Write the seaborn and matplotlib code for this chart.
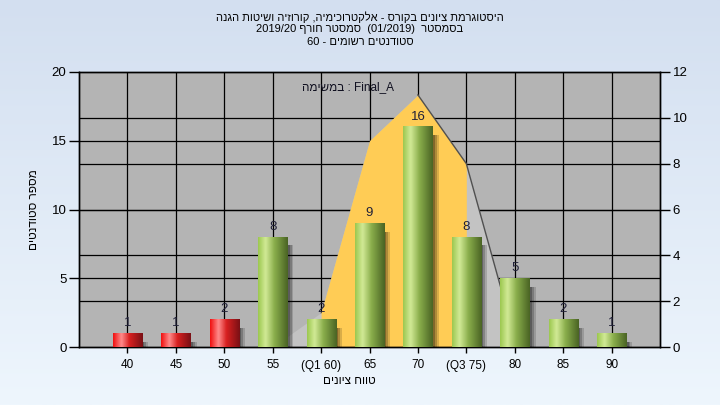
import re
import numpy as np
import matplotlib
matplotlib.use("Agg")
import matplotlib.pyplot as plt
import seaborn as sns
from matplotlib.colors import LinearSegmentedColormap

# data
grades = ["40", "45", "50", "55", "(Q1 60)", "65", "70", "(Q3 75)", "80", "85", "90"]
counts = [1, 1, 2, 8, 2, 9, 16, 8, 5, 2, 1]
failing = ["40", "45", "50"]
# distribution curve on the right axis
curve_grades = ["55", "(Q1 60)", "65", "70", "(Q3 75)", "80"]
curve_vals = [0, 1.5, 9, 11, 8, 0.4]
iqr_grades = ["(Q1 60)", "65", "70", "(Q3 75)"]

title_lines = ["היסטוגרמת ציונים בקורס - אלקטרוכימיה, קורוזיה ושיטות הגנה",
               "בסמסטר  (01/2019)  סמסטר חורף 2019/20",
               "סטודנטים רשומים - 60"]
task_label = "Final_A : במשימה"
x_title = "טווח ציונים"
y_title = "מספר סטודנטים"


def vis(s):
    # matplotlib has no bidi: lay out an RTL line by hand
    tokens = re.findall(r"[A-Za-z0-9_/.]+|.", s)
    mirror = {"(": ")", ")": "("}
    return "".join(mirror.get(t, t) for t in reversed(tokens))


plt.rcParams["font.family"] = ["Liberation Sans", "DejaVu Sans"]

fig = plt.figure(figsize=(7.2, 4.05), dpi=100)

# light blue background gradient
bg = fig.add_axes([0, 0, 1, 1], zorder=-10)
top_c = np.array([211, 223, 240]) / 255
bot_c = np.array([238, 246, 253]) / 255
t = np.linspace(0, 1, 200)[:, None]
bg.imshow((top_c * (1 - t) + bot_c * t)[:, None, :], aspect="auto", extent=[0, 1, 0, 1])
bg.axis("off")

rect = [79 / 720, 1 - 347 / 405, (660 - 79) / 720, (347 - 72) / 405]
ax = fig.add_axes(rect)
ax2 = ax.twinx()
ax.set_zorder(2)
ax2.set_zorder(1)
ax.patch.set_visible(False)
ax2.patch.set_visible(True)
ax2.patch.set_facecolor("#B4B4B4")

pos = {g: i for i, g in enumerate(grades)}

# ---- back axes: grid + curve area
ax2.set_ylim(0, 12)
ax2.set_yticks(range(0, 13, 2))
for v in range(2, 12, 2):
    ax2.axhline(v, color="black", lw=0.9, zorder=0)
for v in [5, 10, 15]:
    ax2.axhline(v * 12 / 20, color="black", lw=0.9, zorder=0)
for i in range(len(grades)):
    ax2.axvline(i, color="black", lw=0.9, zorder=0)

cx = np.array([pos[g] for g in curve_grades], dtype=float)
cy = np.array(curve_vals, dtype=float)
ax2.fill_between(cx, cy, 0, color="#C3C3C3", lw=0, zorder=1)
inner = (cx >= pos[iqr_grades[0]]) & (cx <= pos[iqr_grades[-1]])
ax2.fill_between(cx[inner], cy[inner], 0, color="#FFCC55", lw=0, zorder=2)
ax2.plot(cx[3:], cy[3:], color="#505050", lw=1.0, zorder=3)
ax2.tick_params(axis="y", direction="out", length=7, width=1, labelsize=9.5, pad=2)

# ---- front axes: bars
sns.barplot(x=grades, y=counts, ax=ax, width=0.6, color="white", zorder=3)
idx = np.arange(len(grades))
for off, a in [(0.05, 0.25), (0.09, 0.2), (0.13, 0.15)]:
    ax.bar(idx + off, np.array(counts) - 0.3, width=0.6, bottom=-0.3,
           color="black", alpha=a, lw=0, zorder=2)

red_cm = LinearSegmentedColormap.from_list(
    "r", [(0, "#F01010"), (0.28, "#FF8C8C"), (0.55, "#D82020"), (1, "#7A1015")])
grn_cm = LinearSegmentedColormap.from_list(
    "g", [(0, "#9CC850"), (0.25, "#D2EA96"), (0.55, "#8AAE4C"), (1, "#4A6424")])
grad = np.linspace(0, 1, 64)[None, :]
for g, p in zip(grades, ax.patches[:len(grades)]):
    x0, w, h = p.get_x(), p.get_width(), p.get_height()
    cm = red_cm if g in failing else grn_cm
    ax.imshow(grad, cmap=cm, extent=[x0, x0 + w, 0, h], aspect="auto",
              interpolation="bicubic", zorder=4)
    p.set_visible(False)
    ax.text(x0 + w / 2, h + 0.3, str(int(h)), ha="center", va="bottom",
            fontsize=9.5, color="#202038", zorder=5)

ax.set_xlim(-1, len(grades))
ax.set_ylim(0, 20)
ax.set_yticks(range(0, 21, 5))
ax.set_xticks(idx)
ax.set_xticklabels(grades)
ax.tick_params(axis="y", direction="out", length=7, width=1, labelsize=9.5, pad=2)
ax.tick_params(axis="x", direction="out", length=4, width=1, labelsize=8.5, pad=5)
ax.set_xlabel("")
ax.set_ylabel("")
for a in (ax, ax2):
    for s in a.spines.values():
        s.set_color("black")
        s.set_linewidth(1)

ax.text(len(grades) / 2 - 1 + 0.05, 18.9, vis(task_label), ha="center", va="center",
        fontsize=8.5, color="#101020", zorder=6)

# titles
for k, yy in enumerate([17, 29.5, 42]):
    fig.text(0.5, 1 - yy / 405, vis(title_lines[k]), ha="center", va="center", fontsize=8)
fig.text(349 / 720, 1 - 381 / 405, vis(x_title), ha="center", va="center", fontsize=8.5)
fig.text(34 / 720, 1 - 210 / 405, vis(y_title), ha="center", va="center", fontsize=8.5,
         rotation=90)

fig.savefig("out.png", dpi=100)
